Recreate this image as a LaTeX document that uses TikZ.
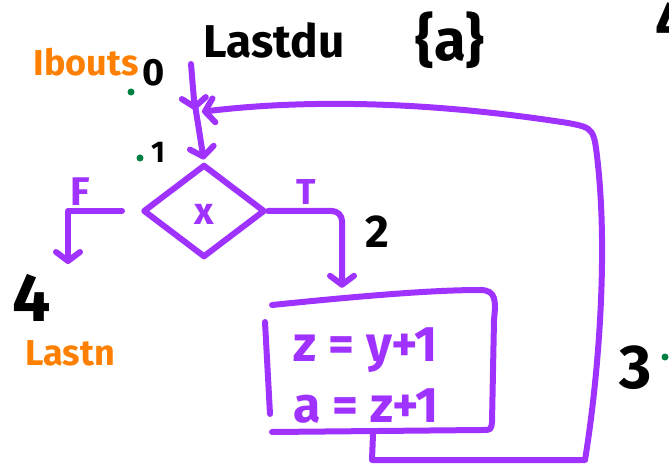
\documentclass[tikz,border=0pt]{standalone}
\usepackage{fontspec}
\setmainfont{Fira Sans}
\usetikzlibrary{arrows.meta,shapes.geometric}
\definecolor{pur}{RGB}{160,50,255}
\definecolor{org}{RGB}{255,128,0}
\definecolor{grn}{RGB}{0,128,64}
\begin{document}
\begin{tikzpicture}[x=1pt,y=-1pt,
  flow/.style={draw=pur,line width=6pt,line cap=round,line join=round},
  tip/.style={-{Straight Barb[length=9pt,width=24pt,round]},shorten >=2pt},
  fs/.style={font=\bfseries\fontsize{#1}{#1}\selectfont,inner sep=0pt},
  blk/.style={fs=#1,text=black},
  orng/.style={fs=#1,text=org},
  purt/.style={fs=#1,text=pur},
  gdot/.style={fill=grn,circle,inner sep=0pt,minimum size=7pt}]
\useasboundingbox (0,0) rectangle (669,465);
% labels
\node[orng=36] (ib) at (86,62) {Ibouts};
\node[gdot] (g0) at (131,92) {};
\node[blk=38] (n0) at (154,73) {0};
\node[blk=46] (lt) at (274,40) {Lastdu};
\node[blk=58] (set) at (450,40) {\{a\}};
\node[blk=56,anchor=west] (n4r) at (655,22) {4};
\node[gdot] (g1) at (140,158) {};
\node[blk=30] (n1) at (158,152) {1};
\node[blk=46] (n2) at (377,232) {2};
\node[blk=68] (n4) at (32,298) {4};
\node[orng=36] (ln) at (70,353) {Lastn};
\node[blk=62] (n3) at (636,368) {3};
\node[gdot] (g3) at (665,357) {};
% structure
\coordinate (top) at (191,64);
\coordinate (j) at (195,112);
\node[shape=diamond,aspect=1.31,minimum width=122pt,minimum height=93pt,inner sep=0pt,
      draw=pur,line width=6pt,line join=round] (dia) at (204,211) {};
\node[purt=38] (x) at (204,214) {x};
\node[purt=40] (F) at (80,192) {F};
\node[purt=36] (T) at (306,192) {T};
\node[minimum width=225pt,minimum height=140pt,inner sep=0pt] (box) at (380,362) {};
\node[purt=50] (l1) at (366,350) {z = y+1};
\node[purt=50] (l2) at (366,406) {a = z+1};
\coordinate (fend) at (68,266);
% box outline (hand drawn)
\draw[flow] (272,305) .. controls (380,294) and (440,290) .. (480,290)
  .. controls (496,290) and (496,300) .. (494,320) -- (492,422)
  .. controls (491,430) .. (482,430) -- (272,432);
\draw[flow] (265,322) -- (270,414);
% connectors
\draw[flow,tip] (top) -- (j);
\draw[flow,tip] ([yshift=7pt]j) -- (dia.north);
\draw[flow,tip] ([xshift=-18pt]dia.west) -| (fend);
\draw[flow,tip,rounded corners=10pt] (dia.east) -| ([xshift=-38pt,yshift=2pt]box.north);
\draw[flow,tip] ([xshift=-7pt,yshift=-2pt]box.south) -- (372,460) -- (585,460)
  .. controls (598,380) and (608,260) .. (598,165)
  .. controls (594,128) .. (568,123)
  .. controls (420,100) and (300,100) .. ([xshift=5pt]j);
\end{tikzpicture}
\end{document}
